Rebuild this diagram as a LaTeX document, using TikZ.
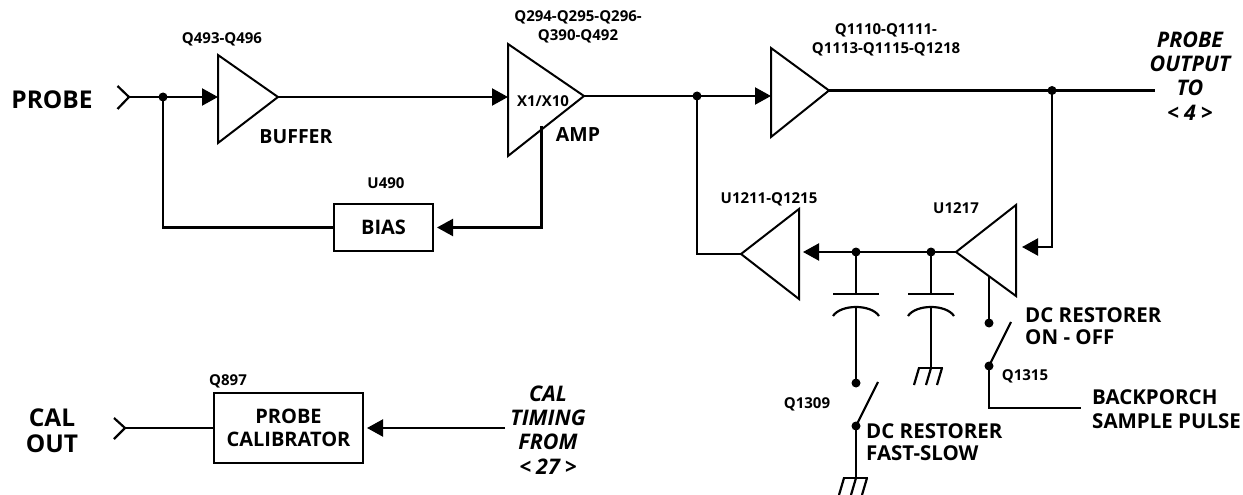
\documentclass[tikz,border=0pt]{standalone}
\usepackage{fontspec}
\setmainfont{Open Sans}
\usetikzlibrary{arrows.meta}
\tikzset{
 wire/.style={line width=2.2pt,line join=miter},
 arrowwire/.style={wire,-{Triangle[length=16pt,width=17pt]}},
 amp/.style={line width=2pt,line join=miter},
 blk/.style={draw,line width=2pt,align=center,font=\bfseries\fontsize{20}{23}\selectfont,inner sep=0pt},
 dot/.style={circle,fill=black,inner sep=0pt,minimum size=9pt},
 big/.style={align=center,font=\bfseries\fontsize{24.5}{26}\selectfont,inner sep=0pt},
 lab/.style={align=left,font=\bfseries\fontsize{20.5}{22}\selectfont,inner sep=0pt,anchor=west},
 lab2/.style={align=left,font=\bfseries\fontsize{20.5}{24.5}\selectfont,inner sep=0pt,anchor=west},
 tag/.style={align=center,font=\fontsize{15}{18.5}\selectfont\bfseries,inner sep=0pt},
 itl/.style={align=center,font=\bfseries\itshape\fontsize{21.5}{24.3}\selectfont,inner sep=0pt},
}
\newcommand{\gnd}[1]{%
 \draw[wire] ([xshift=-13pt]#1) -- ([xshift=12pt]#1);
 \foreach \k in {-12,0,11}{\draw[wire] ([xshift=\k pt]#1) -- ([xshift=\k pt-5pt,yshift=-17pt]#1);}
}
\begin{document}
\begin{tikzpicture}[x=1pt,y=-1pt]
\useasboundingbox (0,0) rectangle (1243,495);
% text
\node[big] (tprobe) at (52,100) {PROBE};
\node[big] (tcal) at (52,431) {CAL\\OUT};
\node[tag] (t1) at (222,39) {Q493-Q496};
\node[tag] (t2) at (578,27) {Q294-Q295-Q296-\\Q390-Q492};
\node[tag] (t3) at (886,40) {Q1110-Q1111-\\Q1113-Q1115-Q1218};
\node[tag] (t4) at (386,183) {U490};
\node[tag] (t5) at (769,199) {U1211-Q1215};
\node[tag] (t6) at (956,208) {U1217};
\node[tag] (t7) at (1025,376) {Q1315};
\node[tag] (t8) at (807,404) {Q1309};
\node[tag] (t9) at (228,381) {Q897};
\node[font=\bfseries\fontsize{19.5}{22}\selectfont,inner sep=0pt] (tbuf) at (296,137) {BUFFER};
\node[font=\bfseries\fontsize{19.5}{22}\selectfont,inner sep=0pt] (tamp) at (578,135) {AMP};
\node[font=\bfseries\fontsize{15}{18}\selectfont,inner sep=0pt] (tx) at (543,101) {X1/X10};
\node[itl] (tpo) at (1190,76) {PROBE\\OUTPUT\\TO\\<\kern5pt 4\kern5pt >};
\node[itl] (tct) at (548,430) {CAL\\TIMING\\FROM\\<\kern5pt 27\kern5pt >};
\node[lab] (tr1) at (1025,326) {DC RESTORER\\ON - OFF};
\node[lab2] (tr2) at (1092,409) {BACKPORCH\\SAMPLE PULSE};
\node[lab] (tr3) at (866,442) {DC RESTORER\\FAST-SLOW};
% boxes
\node[blk,minimum width=99pt,minimum height=47pt] (bias) at (383.5,227.5) {BIAS};
\node[blk,minimum width=149pt,minimum height=70pt] (cal) at (288.5,428) {PROBE\\CALIBRATOR};
% amplifiers
\draw[amp] (218,55) -- (218,143) -- (278,97) coordinate (o1) -- cycle;
\coordinate (i1) at (218,97);
\draw[amp] (508,44) -- (508,156) -- (584,96) coordinate (o2) -- cycle;
\coordinate (i2) at (508,97);
\draw[amp] (771,48) -- (771,137) -- (829,90.5) coordinate (o3) -- cycle;
\coordinate (i3) at (771,96);
\draw[amp] (799,209) -- (799,299) -- (741,254) coordinate (o4) -- cycle;
\coordinate (i4) at (799,252);
\draw[amp] (1016,205) -- (1016,296) -- (956,252) coordinate (o5) -- cycle;
\coordinate (i5) at (1016,247);
% input connectors
\draw[wire] (117.5,86) -- (129,97) coordinate (pin) -- (117.5,109);
\draw[wire] (114,418) -- (125,428) coordinate (cin) -- (114,439);
% nets
\node[dot] (d1) at (163,97) {};
\node[dot] (d2) at (697,96) {};
\node[dot] (d3) at (1052,90.5) {};
\node[dot] (d4) at (856,252) {};
\node[dot] (d5) at (931,252) {};
\node[dot] (d6) at (989,323) {};
\node[dot] (d7) at (989,366) {};
\node[dot] (d8) at (856,383) {};
\node[dot] (d9) at (856,426) {};
\draw[arrowwire] (pin) -- (i1);
\draw[arrowwire] (o1) -- (i2);
\draw[wire] (o2) -- (d2.center);
\draw[arrowwire] (d2.center) -- (i3);
\coordinate (e3) at (1155,90.5);
\draw[wire] (o3) -- (e3);
\coordinate (a1) at (541.5,126);
\draw[arrowwire] (a1) -- (a1 |- bias.east) -- ([xshift=3pt]bias.east);
\draw[wire] (d1.center) -- (d1 |- bias.west) -- (bias.west);
\draw[wire] (d2.center) -- (d2 |- o4) -- (o4);
\draw[arrowwire] (d3.center) -- (d3 |- i5) -- ([xshift=6pt]i5);
\draw[arrowwire] (o5) -- ([xshift=4pt]i4);
\draw[wire] (cin) -- (cal.west);
\coordinate (ct) at (505,428);
\draw[arrowwire] (ct) -- ([xshift=3pt]cal.east);
% caps
\coordinate (c1a) at (856,294);
\coordinate (c2a) at (931,294);
\draw[wire] (d4.center) -- (c1a);
\draw[wire] (d5.center) -- (c2a);
\draw[wire] ([xshift=-23pt]c1a) -- ([xshift=23pt]c1a);
\draw[wire] ([xshift=-23pt]c2a) -- ([xshift=23pt]c2a);
\draw[wire] (833,316) .. controls (841,304) and (871,304) .. (879,316);
\draw[wire] (908,316) .. controls (916,304) and (946,304) .. (954,316);
\draw[wire] (856,307) -- (d8.center);
\coordinate (g1) at (931,368);
\draw[wire] (931,307) -- (g1);
\gnd{g1}
\coordinate (g2) at (856,478);
\draw[wire] (d9.center) -- (g2);
\gnd{g2}
% switches
\coordinate (s1) at (989,277);
\draw[wire] (s1) -- (d6.center);
\coordinate (s2) at (1011,322);
\draw[wire] (s2) -- (d7.center);
\coordinate (s3) at (1081,408);
\draw[wire] (d7.center) -- (d7 |- s3) -- (s3);
\coordinate (s4) at (878,382);
\draw[wire] (s4) -- (d9.center);
\end{tikzpicture}
\end{document}
